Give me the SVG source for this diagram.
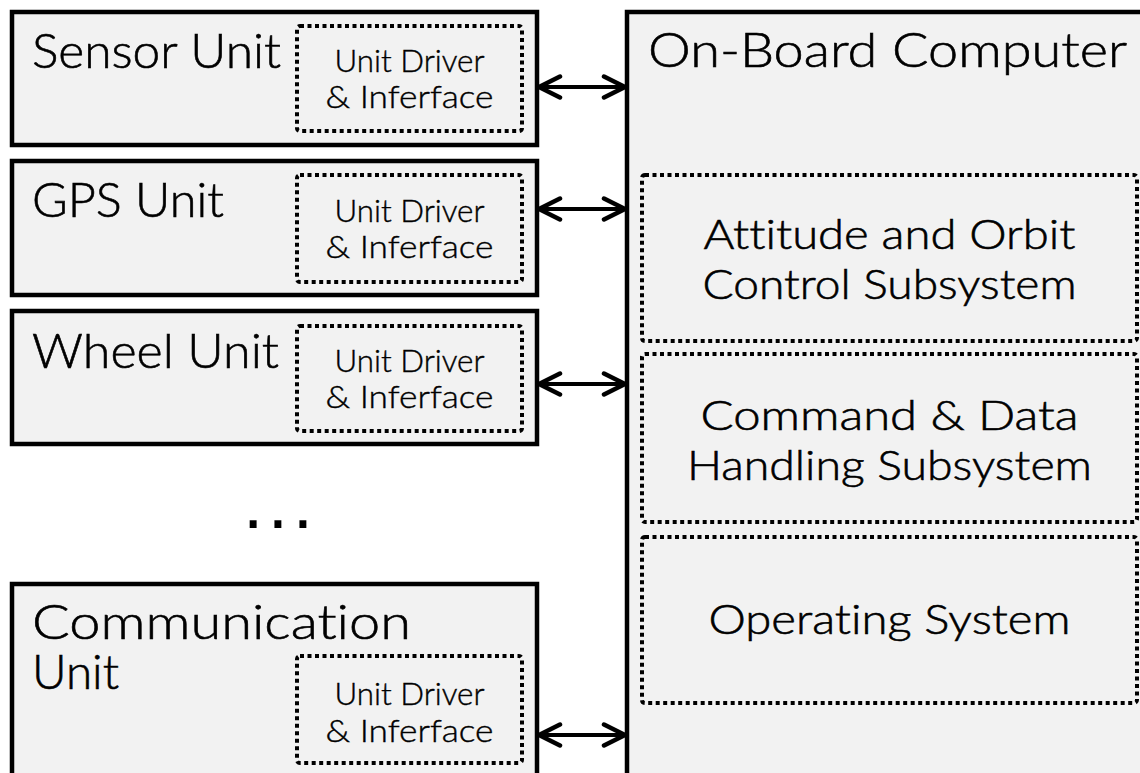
<svg xmlns="http://www.w3.org/2000/svg" width="1140" height="773" viewBox="0 0 1140 773">
  <style>
    .unit { fill: #f2f2f2; stroke: #000; stroke-width: 4.5; }
    .part { fill: none; stroke: #000; stroke-width: 4; stroke-dasharray: 4 3.5; }
    text { font-family: "Lato", "DejaVu Sans", "Liberation Sans", sans-serif; font-weight: 300; fill: #000; stroke: #000; stroke-width: 0.6; font-variant-ligatures: none; font-feature-settings: "liga" 0, "clig" 0; }
    .big { font-size: 48px; }
    .sub { font-size: 42px; text-anchor: middle; }
    .drv { font-size: 31px; text-anchor: middle; stroke-width: 0.4; }
    .dots { font-family: "Liberation Sans", Arial, sans-serif; font-weight: 400; font-size: 73px; letter-spacing: 4.7px; stroke: none; }
    .link { stroke: #000; stroke-width: 4; fill: none; marker-start: url(#chev); marker-end: url(#chev); }
  </style>
  <defs>
    <marker id="chev" viewBox="-25 -14 29 28" refX="0" refY="0" markerWidth="29" markerHeight="28" markerUnits="userSpaceOnUse" orient="auto-start-reverse">
      <path d="M-21,-10.5 L0,0 L-21,10.5" fill="none" stroke="#000" stroke-width="4.5" stroke-linecap="round"/>
    </marker>
  </defs>

  <rect width="1140" height="773" fill="#fff"/>

  <!-- Peripheral units -->
  <g id="sensor-unit">
    <rect class="unit" x="12" y="12" width="525" height="133"/>
    <rect class="part" x="297" y="26" width="225" height="105" rx="3"/>
    <text class="big" x="32" y="68" textLength="249" lengthAdjust="spacingAndGlyphs">Sensor Unit</text>
    <text class="drv" x="409.5" y="72" textLength="150" lengthAdjust="spacingAndGlyphs">Unit Driver</text>
    <text class="drv" x="409.5" y="108" textLength="168" lengthAdjust="spacingAndGlyphs">&amp; Inferface</text>
  </g>

  <g id="gps-unit">
    <rect class="unit" x="12" y="161" width="525" height="134"/>
    <rect class="part" x="297" y="175" width="225" height="107" rx="3"/>
    <text class="big" x="32" y="217" textLength="192" lengthAdjust="spacingAndGlyphs">GPS Unit</text>
    <text class="drv" x="409.5" y="222" textLength="150" lengthAdjust="spacingAndGlyphs">Unit Driver</text>
    <text class="drv" x="409.5" y="258" textLength="168" lengthAdjust="spacingAndGlyphs">&amp; Inferface</text>
  </g>

  <g id="wheel-unit">
    <rect class="unit" x="12" y="311" width="525" height="133"/>
    <rect class="part" x="297" y="326" width="225" height="105" rx="3"/>
    <text class="big" x="32" y="368" textLength="247" lengthAdjust="spacingAndGlyphs">Wheel Unit</text>
    <text class="drv" x="409.5" y="372" textLength="150" lengthAdjust="spacingAndGlyphs">Unit Driver</text>
    <text class="drv" x="409.5" y="408" textLength="168" lengthAdjust="spacingAndGlyphs">&amp; Inferface</text>
  </g>

  <text class="dots" x="242.9" y="527.6">...</text>

  <g id="communication-unit">
    <rect class="unit" x="12" y="584" width="525" height="230"/>
    <rect class="part" x="297" y="656" width="225" height="107" rx="3"/>
    <text class="big" x="32" y="639" textLength="379" lengthAdjust="spacingAndGlyphs">Communication</text>
    <text class="big" x="32" y="689" textLength="87" lengthAdjust="spacingAndGlyphs">Unit</text>
    <text class="drv" x="409.5" y="705" textLength="150" lengthAdjust="spacingAndGlyphs">Unit Driver</text>
    <text class="drv" x="409.5" y="742" textLength="168" lengthAdjust="spacingAndGlyphs">&amp; Inferface</text>
  </g>

  <!-- On-board computer with its software subsystems -->
  <g id="on-board-computer">
    <rect class="unit" x="627" y="12" width="560" height="800"/>
    <text class="big" x="648" y="67" textLength="479" lengthAdjust="spacingAndGlyphs">On-Board Computer</text>
  </g>

  <g id="aocs">
    <rect class="part" x="642" y="175" width="495" height="166" rx="3"/>
    <text class="sub" x="889.5" y="249" textLength="372" lengthAdjust="spacingAndGlyphs">Attitude and Orbit</text>
    <text class="sub" x="889.5" y="299" textLength="374" lengthAdjust="spacingAndGlyphs">Control Subsystem</text>
  </g>

  <g id="cdhs">
    <rect class="part" x="642" y="354" width="495" height="168" rx="3"/>
    <text class="sub" x="889.5" y="430" textLength="378" lengthAdjust="spacingAndGlyphs">Command &amp; Data</text>
    <text class="sub" x="889.5" y="480" textLength="405" lengthAdjust="spacingAndGlyphs">Handling Subsystem</text>
  </g>

  <g id="operating-system">
    <rect class="part" x="642" y="537" width="495" height="166" rx="3"/>
    <text class="sub" x="889.5" y="634" textLength="362" lengthAdjust="spacingAndGlyphs">Operating System</text>
  </g>

  <!-- Bidirectional links between units and the computer -->
  <g id="connectors">
    <line class="link" x1="539" y1="87" x2="625" y2="87"/>
    <line class="link" x1="539" y1="209" x2="625" y2="209"/>
    <line class="link" x1="539" y1="384" x2="625" y2="384"/>
    <line class="link" x1="539" y1="735" x2="625" y2="735"/>
  </g>
</svg>
